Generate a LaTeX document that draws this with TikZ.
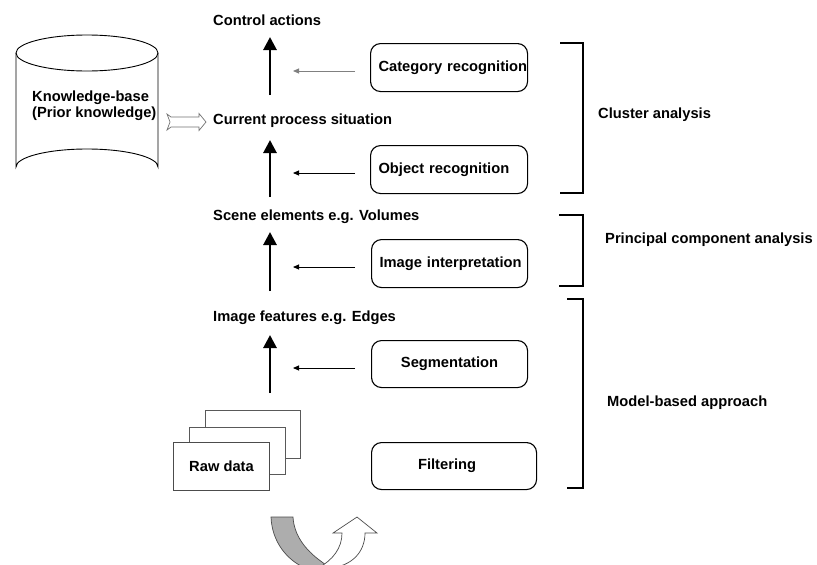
\documentclass[tikz,border=0pt]{standalone}
\usepackage{fontspec}
\setmainfont{Liberation Sans}
\usetikzlibrary{arrows.meta,calc}
\begin{document}
\begin{tikzpicture}[x=1pt,y=-1pt,
  lbl/.style={font=\fontsize{14.7}{16}\selectfont\bfseries, inner sep=0pt},
  procbox/.style={draw, line width=1.1pt, rounded corners=10pt, minimum height=48pt, inner xsep=8pt, inner ysep=0pt, font=\fontsize{14.7}{16}\selectfont\bfseries},
  bigarrow/.style={line width=2.8pt, -{Triangle[length=13pt,width=13pt]}},
  smallarrow/.style={line width=0.9pt, -{Triangle[length=6pt,width=5pt]}},
  brack/.style={line width=2pt},
  page/.style={draw=black!65, line width=1pt, fill=white}
]
\useasboundingbox (0,0) rectangle (817,565);
\fill[white] (0,0) rectangle (817,565);

% knowledge base cylinder
\draw[line width=0.9pt] (16,53) -- (16,167) arc[start angle=180,end angle=360,x radius=71,y radius=18] -- (158,53);
\draw[line width=0.9pt] (87,53) ellipse[x radius=71, y radius=18];
\node[lbl, anchor=north west, align=left] (kb) at (32,91) {Knowledge-base\\(Prior knowledge)};

% hollow double arrow
\draw[black!55, line width=0.7pt, fill=white] (167,114) -- (171,117) -- (199,117) -- (199,113.5) -- (206,122) -- (199,130.5) -- (199,127) -- (171,127) -- (167,130) -- (170,122) -- cycle;

% level labels
\node[lbl, anchor=west] (ca) at (213,20) {Control actions};
\node[lbl, anchor=west] (cps) at (213,121) {Current process situation};
\node[lbl, anchor=west] (se) at (213,217) {Scene elements e.g. Volumes};
\node[lbl, anchor=west] (ife) at (213,318) {Image features e.g. Edges};

% process boxes
\node[procbox, text width=141pt, align=left, anchor=north west] (cat) at (370,43) {\mbox{Category recognition}};
\node[procbox, text width=141pt, align=left, anchor=north west] (obj) at (370,145) {\mbox{Object recognition}};
\node[procbox, text width=140pt, align=left, anchor=north west] (ii) at (371,239) {\mbox{Image interpretation}};
\node[procbox, text width=140pt, align=center, anchor=north west, minimum height=47pt] (seg) at (371,340) {Segmentation};
\node[procbox, text width=149pt, align=center, anchor=north west, minimum height=47pt] (filt) at (371,442) {\mbox{Filtering\hspace*{14pt}}};

% raw data pages
\draw[page] (205,410) rectangle (300,458);
\draw[page] (189,427) rectangle (285,474);
\node[page, draw=black!70, minimum width=96pt, minimum height=48pt, inner sep=0pt, anchor=north west, font=\fontsize{14.7}{16}\selectfont\bfseries] (raw) at (173,442) {Raw data};

% thick upward arrows
\coordinate (t1s) at (270,95);  \coordinate (t1e) at (270,37);
\coordinate (t2s) at (270,197); \coordinate (t2e) at (270,140);
\coordinate (t3s) at (270,291); \coordinate (t3e) at (270,232);
\coordinate (t4s) at (270,393); \coordinate (t4e) at (270,335);
\draw[bigarrow] (t1s) -- (t1e);
\draw[bigarrow] (t2s) -- (t2e);
\draw[bigarrow] (t3s) -- (t3e);
\draw[bigarrow] (t4s) -- (t4e);

% thin arrows
\coordinate (s1e) at (293,71);
\coordinate (s2e) at (293,173);
\coordinate (s3e) at (293,267);
\coordinate (s4e) at (293,368);
\draw[smallarrow, black!50] (cat.west |- s1e) ++(-15,0) -- (s1e);
\draw[smallarrow] (obj.west |- s2e) ++(-15,0) -- (s2e);
\draw[smallarrow] (ii.west |- s3e) ++(-16,0) -- (s3e);
\draw[smallarrow] (seg.west |- s4e) ++(-16,0) -- (s4e);

% brackets
\draw[brack] (560,43) -- (583,43) -- (583,193) -- (560,193);
\draw[brack] (559,215) -- (583,215) -- (583,286) -- (559,286);
\draw[brack] (567,299) -- (583,299) -- (583,488) -- (567,488);

\node[lbl, anchor=west] (clu) at (598,115) {Cluster analysis};
\node[lbl, anchor=west] (pca) at (605,240) {Principal component analysis};
\node[lbl, anchor=west] (mba) at (607,403) {Model-based approach};

% cycle arrows at bottom
\begin{scope}
\clip (0,0) rectangle (817,565);
\draw[black!70, line width=0.7pt, fill=black!32] (271,517) .. controls (272,542) and (287,560) .. (305,568) -- (330,568) -- (322,562) .. controls (305,550) and (294,535) .. (293,517) -- cycle;
\draw[black!70, line width=0.7pt, fill=white] (318,568) .. controls (333,560) and (342,548) .. (342,533) -- (333,533) -- (357,517) -- (377,533) -- (365,533) .. controls (365,552) and (352,566) .. (330,568) -- cycle;
\end{scope}
\end{tikzpicture}
\end{document}
